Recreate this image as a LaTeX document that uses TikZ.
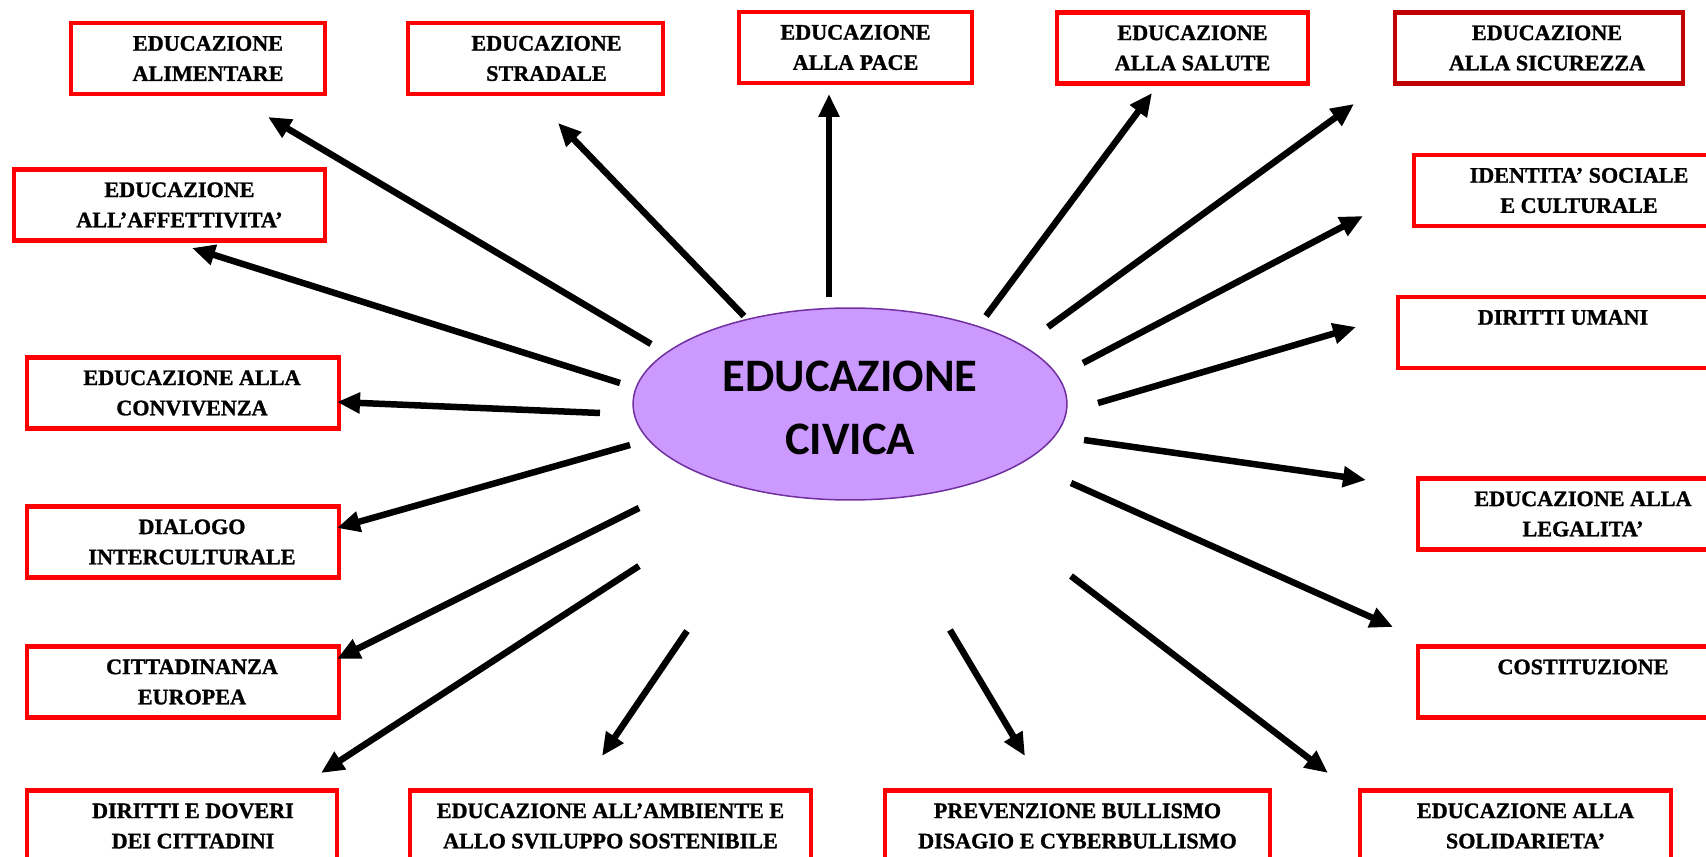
\documentclass[tikz,border=0pt]{standalone}
\usepackage{fontspec}
\setmainfont{Liberation Serif}[BoldFeatures={FakeBold=1.2}]
\newfontfamily\calibri{Carlito}
\usetikzlibrary{arrows.meta,shapes.geometric}
\definecolor{lilla}{HTML}{CC99FF}
\definecolor{viola}{HTML}{7030A0}
\definecolor{rossoscuro}{HTML}{C00000}

\begin{document}
\begin{tikzpicture}[x=0.02cm, y=-0.02cm, >={Triangle[length=0.46cm, width=0.4cm]},
	box/.style={draw=red, line width=0.09cm, minimum height=1.42cm, inner sep=0pt},
	testo/.style={align=center, inner sep=0pt, font=\bfseries\fontsize{12.6}{17.2}\selectfont},
	freccia/.style={->, line width=0.13cm}]
	\useasboundingbox (0,0) rectangle (1706,857);
	\clip (0,0) rectangle (1706,857);
	% nodo centrale
	\node[ellipse, draw=viola, fill=lilla, line width=0.03cm, minimum width=8.68cm, minimum height=3.84cm, inner sep=0pt, align=center, text height=57.3pt, text depth=0pt, font=\calibri\bfseries\fontsize{26.5}{35.5}\selectfont] (civ) at (850,404) {EDUCAZIONE\\CIVICA};
	% riquadri
	\foreach \n/\x/\y/\w/\o/\t in {
		ali/198/58.5/5.08/10/{EDUCAZIONE\\ALIMENTARE},
		str/535.5/58.5/5.1/11/{EDUCAZIONE\\STRADALE},
		pace/855.5/47.5/4.66/0/{EDUCAZIONE\\ALLA PACE},
		sal/1182.5/48/5.02/10/{EDUCAZIONE\\ALLA SALUTE},
		aff/169.5/205/6.22/10/{EDUCAZIONE\\ALL'AFFETTIVITA'},
		ide/1570/190.5/6.24/9/{IDENTITA' SOCIALE\\E CULTURALE},
		dir/1554/332.5/6.24/9/{DIRITTI UMANI\\\mbox{}},
		leg/1574/514/6.24/9/{EDUCAZIONE ALLA\\LEGALITA'},
		cos/1574/682/6.24/9/{COSTITUZIONE\\\mbox{}},
		con/183/393/6.24/9/{EDUCAZIONE ALLA\\CONVIVENZA},
		dia/183/542/6.24/9/{DIALOGO\\INTERCULTURALE},
		cit/183/682/6.24/9/{CITTADINANZA\\EUROPEA},
		dov/182/826/6.2/11/{DIRITTI E DOVERI\\DEI CITTADINI},
		amb/610.5/826/8.02/0/{EDUCAZIONE ALL'AMBIENTE E\\ALLO SVILUPPO SOSTENIBILE},
		pre/1077.5/826/7.7/0/{PREVENZIONE BULLISMO\\DISAGIO E CYBERBULLISMO},
		sol/1515.5/826/6.22/10/{EDUCAZIONE ALLA\\SOLIDARIETA'}}
	{
		\node[box, minimum width=\w cm] (\n) at (\x,\y) {};
		\node[testo] (t-\n) at ([xshift=\o*0.02cm]\n.center) {\t};
	}
	\node[box, draw=rossoscuro, minimum width=5.76cm] (sic) at (1539,48) {};
	\node[testo] (t-sic) at ([xshift=0.16cm]sic.center) {EDUCAZIONE\\ALLA SICUREZZA};
	% frecce
	\foreach \n/\a/\b/\c/\d in {
		ali/651/344/268/117, str/744/316/558/123, pace/829/297/829/94,
		sal/986/316/1152/93, sic/1048/327/1354/104, ide/1083/363/1363/216,
		dir/1098/403/1356/327, leg/1084/440/1366/480, cos/1071/483/1393/627,
		sol/1071/576/1328/773, pre/950/630/1025/756, amb/687/631/602/756,
		dov/639/566/321/773, cit/639/508/337/659, dia/630/445/337/528,
		con/600/413/337/402, aff/620/383/192/248}
	{
		\coordinate (da-\n) at (\a,\b);
		\coordinate (verso-\n) at (\c,\d);
		\draw[freccia] (da-\n) -- (verso-\n);
	}
\end{tikzpicture}
\end{document}
